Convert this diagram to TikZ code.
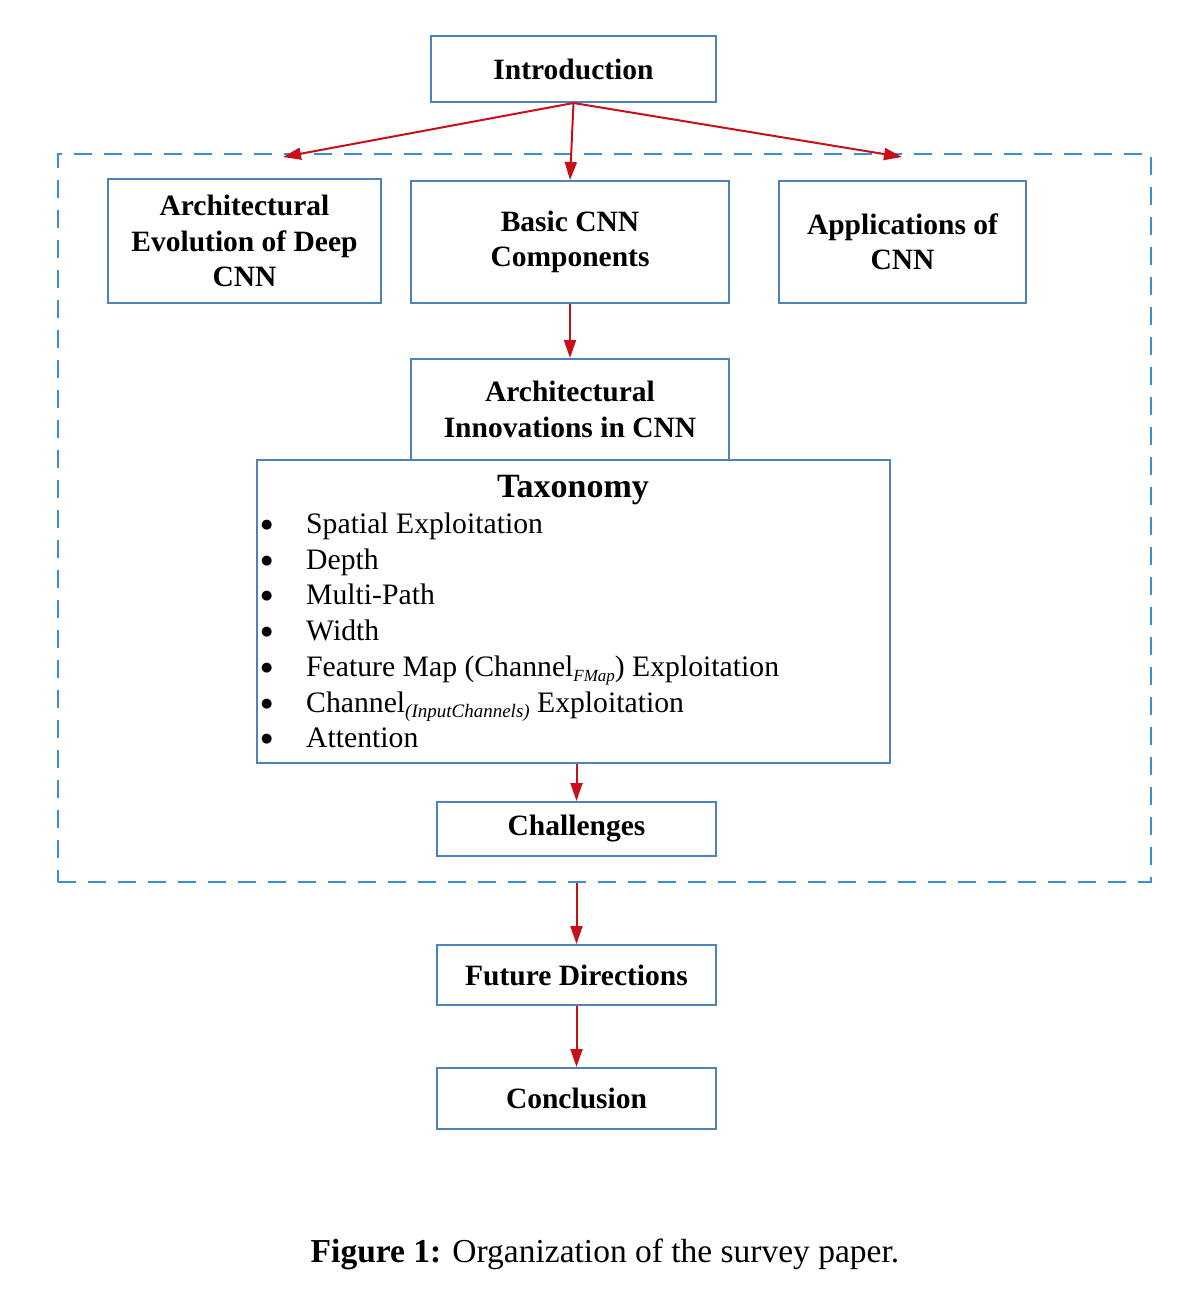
\documentclass[tikz,border=0pt]{standalone}
\usepackage{fontspec}
\setmainfont{Liberation Serif}
\newfontfamily\symfont{DejaVu Sans}
\usetikzlibrary{arrows.meta}

\definecolor{boxblue}{RGB}{79,129,189}
\definecolor{framebl}{RGB}{60,142,212}
\definecolor{arrred}{RGB}{200,16,24}

\tikzset{
  secbox/.style={draw=boxblue, line width=2pt, inner sep=0pt, align=center,
    font=\fontsize{29.5}{35.5}\selectfont\bfseries},
  flow/.style={draw=arrred, line width=2pt, -{Triangle[length=18pt,width=12pt]}},
  item/.style={anchor=base west, inner sep=0pt, font=\fontsize{29.7}{35.7}\selectfont},
}
% list bullet and small italic subscript used in the taxonomy list
\newcommand{\bul}{\makebox[45pt][l]{\raisebox{5pt}{\symfont\fontsize{13}{13}\selectfont ●}}}
\newcommand{\lowsub}[2][17]{\raisebox{-5pt}{\fontsize{#1}{#1}\selectfont\itshape #2}}

\begin{document}
\begin{tikzpicture}[x=1pt,y=-1pt]
\useasboundingbox (0,0) rectangle (1198,1306);

% dashed frame around the main body of the survey
\node[draw=framebl, line width=2.5pt, dash pattern=on 18pt off 12pt,
      minimum width=1093pt, minimum height=728pt, inner sep=0pt]
      (frame) at (604.5,518) {};

% section boxes
\node[secbox, minimum width=285pt, minimum height=66pt] (intro) at (573.5,69) {Introduction};
\node[secbox, minimum width=273pt, minimum height=124pt] (evol) at (244.5,241) {Architectural\\Evolution of Deep\\CNN};
\node[secbox, minimum width=318pt, minimum height=122pt] (basic) at (570,242) {Basic CNN\\Components};
\node[secbox, minimum width=247pt, minimum height=122pt] (apps) at (902.5,242) {Applications of\\CNN};
\node[secbox, minimum width=318pt, minimum height=101pt] (innov) at (570,409.5) {Architectural\\Innovations in CNN};

% taxonomy box with its list
\node[draw=boxblue, line width=2pt, inner sep=0pt,
      minimum width=633pt, minimum height=303pt] (tax) at (573.5,611.5) {};
\node[anchor=base, inner sep=0pt, font=\fontsize{34}{40}\selectfont\bfseries]
      (taxtitle) at (573,497) {Taxonomy};
\node[item] (t1) at (261,533) {\bul Spatial Exploitation};
\node[item] (t2) at (261,569) {\bul Depth};
\node[item] (t3) at (261,604) {\bul Multi-Path};
\node[item] (t4) at (261,640) {\bul Width};
\node[item] (t5) at (261,676) {\bul Feature Map (Channel\lowsub{FMap}) Exploitation};
\node[item] (t6) at (261,712) {\bul Channel\lowsub[19]{(InputChannels)} Exploitation};
\node[item] (t7) at (261,747) {\bul Attention};

\node[secbox, minimum width=279pt, minimum height=54pt] (chal) at (576.5,829) {Challenges};
\node[secbox, minimum width=279pt, minimum height=60pt] (fut) at (576.5,975) {Future Directions};
\node[secbox, minimum width=279pt, minimum height=61pt] (conc) at (576.5,1098.5) {Conclusion};

% arrow ends on the frame edge
\coordinate (fl) at (283,157);
\coordinate (fr) at (902,157);

% connectors
\draw[flow] (intro.south) -- (fl);
\draw[flow] (intro.south) -- (basic.north);
\draw[flow] (intro.south) -- (fr);
\draw[flow] (basic.south) -- (innov.north);
\draw[flow] (tax.south -| chal.north) -- (chal.north);
\draw[flow] (frame.south -| fut.north) -- (fut.north);
\draw[flow] (fut.south) -- (conc.north);

% caption
\node[anchor=base, inner sep=0pt, font=\fontsize{33.5}{40}\selectfont]
      (caption) at (605,1262) {\textbf{Figure 1:} Organization of the survey paper.};
\end{tikzpicture}
\end{document}
